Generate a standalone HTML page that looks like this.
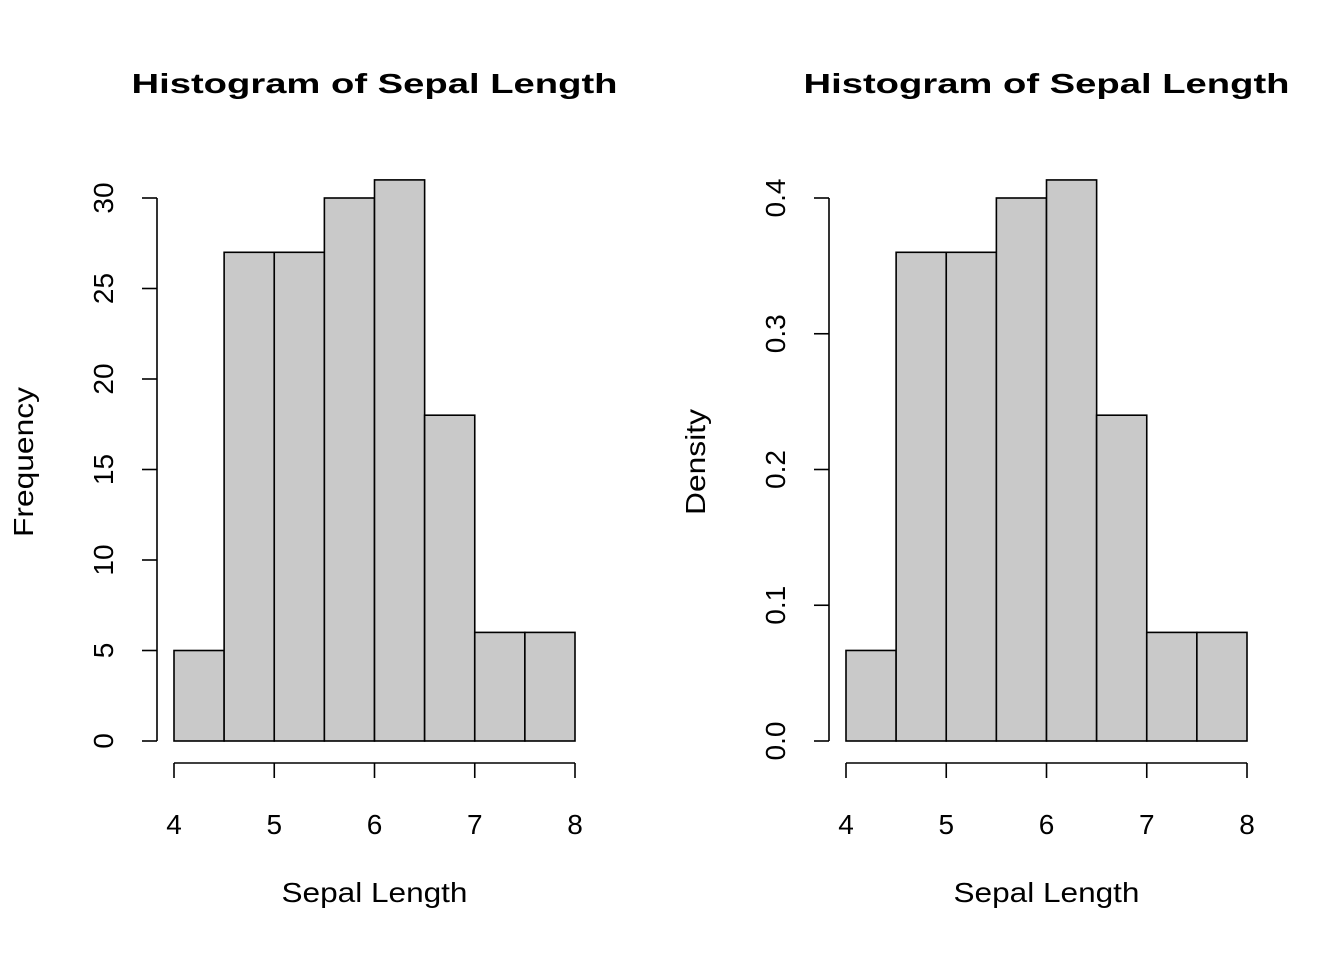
<!DOCTYPE html>
<html><head><meta charset="utf-8"><style>
html,body{margin:0;padding:0;background:#fff;}
svg{display:block;font-family:"Liberation Sans",Arial,sans-serif;}
</style></head><body>
<svg id="chart" width="1344" height="960" viewBox="0 0 1344 960" xmlns="http://www.w3.org/2000/svg"></svg>
<script>
const breaks = [4,4.5,5,5.5,6,6.5,7,7.5,8];
const counts = [5,27,27,30,31,18,6,6];
const densities = [0.0667,0.36,0.36,0.4,0.4133,0.24,0.08,0.08];
const xTicks = [4,5,6,7,8];
const freqTicks = [0,5,10,15,20,25,30];
const densTicks = [0,0.1,0.2,0.3,0.4];
const densTickLabels = ["0.0","0.1","0.2","0.3","0.4"];

const NS="http://www.w3.org/2000/svg";
const svg=document.getElementById('chart');
function mk(tag,attrs,parent){const e=document.createElementNS(NS,tag);for(const k in attrs)e.setAttribute(k,attrs[k]);(parent||svg).appendChild(e);return e;}

function panel(prefix,x0,yAxisX,values,yMax,ticks,tickLabels,ylab,ylabX,ylabLen){
  const g=mk('g',{});
  
  
  const xs=v=>x0+(v-4)*(401/4);
  const ys=v=>741-v*(543/yMax);
  const cx=xs(6);
  const t=mk('text',{x:cx,y:93,'text-anchor':'middle','font-size':'28','font-weight':'bold',textLength:'486',lengthAdjust:'spacingAndGlyphs'},g);
  t.textContent='Histogram of Sepal Length';
  
  
  values.forEach((v,i)=>{
    const r=mk('rect',{x:xs(breaks[i]),y:ys(v),width:xs(breaks[i+1])-xs(breaks[i]),height:741-ys(v),fill:'#c9c9c9',stroke:'#000','stroke-width':'1.6'},g);
    
    
  });
  const xa=mk('g',{},g);
  
  
  mk('line',{x1:xs(xTicks[0]),x2:xs(xTicks[xTicks.length-1]),y1:763,y2:763,stroke:'#000','stroke-width':'1.6'},xa);
  xTicks.forEach(v=>{
    mk('line',{x1:xs(v),x2:xs(v),y1:763,y2:778,stroke:'#000','stroke-width':'1.6'},xa);
    const l=mk('text',{x:xs(v),y:834,'text-anchor':'middle','font-size':'28'},xa);
    l.textContent=v;
    
    
  });
  const ya=mk('g',{},g);
  
  
  mk('line',{x1:yAxisX,x2:yAxisX,y1:ys(ticks[0]),y2:ys(ticks[ticks.length-1]),stroke:'#000','stroke-width':'1.6'},ya);
  ticks.forEach((v,i)=>{
    const y=ys(v);
    mk('line',{x1:yAxisX-15,x2:yAxisX,y1:y,y2:y,stroke:'#000','stroke-width':'1.6'},ya);
    const bx=yAxisX-44;
    const l=mk('text',{x:bx,y:y,'text-anchor':'middle','font-size':'28',transform:`rotate(-90 ${bx} ${y})`},ya);
    l.textContent=tickLabels[i];
    
    
  });
  const xl=mk('text',{x:cx,y:902,'text-anchor':'middle','font-size':'28',textLength:'186',lengthAdjust:'spacingAndGlyphs'},g);
  xl.textContent='Sepal Length';
  
  
  const yl=mk('text',{x:ylabX,y:462,'text-anchor':'middle','font-size':'28',textLength:ylabLen,lengthAdjust:'spacingAndGlyphs',transform:`rotate(-90 ${ylabX} 462)`},g);
  yl.textContent=ylab;
  
  
}
panel('frequency',174,157,counts,30,freqTicks,freqTicks.map(String),'Frequency',33,'150');
panel('density',846,829,densities,0.4,densTicks,densTickLabels,'Density',705,'106');
</script>
</body></html>
